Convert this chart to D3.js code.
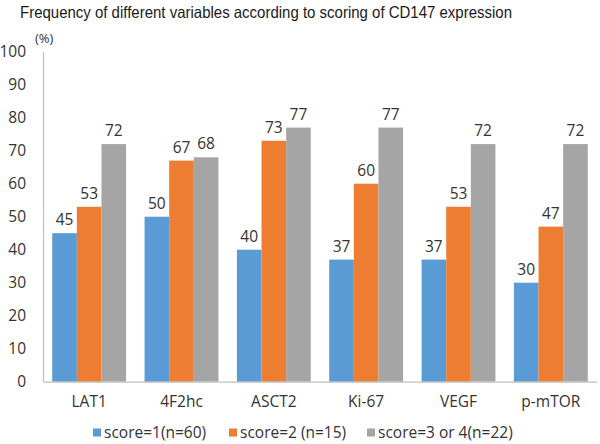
<!DOCTYPE html>
<html><head><meta charset="utf-8">
<script src="https://cdn.jsdelivr.net/npm/d3@7"></script>
<style>body{margin:0;background:#fff}svg{display:block}</style>
</head><body>
<svg id="c" width="600" height="444"></svg>
<script>
const categories = ["LAT1","4F2hc","ASCT2","Ki-67","VEGF","p-mTOR"];
const seriesNames = ["score=1(n=60)","score=2 (n=15)","score=3 or 4(n=22)"];
const score1 = [45,50,40,37,37,30];
const score2 = [53,67,73,60,53,47];
const score34 = [72,68,77,77,72,72];
const yTicks = [0,10,20,30,40,50,60,70,80,90,100];
const colors = ["#5B9BD5","#ED7D31","#A5A5A5"];
const title = "Frequency of different variables according to scoring of CD147 expression";

(function(){
const series = [score1, score2, score34];
const svg = d3.select("#c");
const mLeft = 43, mRight = 597, mTop = 51.7, mBottom = 381.7;
const x = d3.scaleBand().domain(categories).range([mLeft, mRight]).paddingInner(0.2).paddingOuter(0.1);
const x1 = d3.scaleBand().domain(d3.range(series.length)).range([0, x.bandwidth()]);
const y = d3.scaleLinear().domain([0,100]).range([mBottom, mTop]);
const txt = "#333";
const font = "'Open Sans', sans-serif";
const fs = 15.5;

svg.append("text").attr("x", 20).attr("y", 18).attr("font-family","Arial, 'Liberation Sans', sans-serif")
  .attr("font-size", 16.5).attr("fill","#1a1a1a").attr("textLength", 492).attr("lengthAdjust","spacingAndGlyphs").text(title);
svg.append("text").attr("x", 35).attr("y", 43).attr("font-family", font).attr("font-size", 13).attr("fill", txt).text("(%)");

const ya = svg.append("g").attr("transform", `translate(${mLeft},0)`)
  .call(d3.axisLeft(y).tickValues(yTicks).tickSize(0).tickPadding(17));
ya.select(".domain").attr("stroke","#BFBFBF").attr("stroke-width",1.2);
ya.selectAll("text").attr("font-family", font).attr("font-size", fs).attr("fill", txt);

categories.forEach((c, i) => {
  series.forEach((s, j) => {
    const bx = x(c) + x1(j);
    svg.append("rect").attr("x", bx).attr("y", y(s[i])).attr("width", x1.bandwidth()).attr("height", y(0) - y(s[i])).attr("fill", colors[j]);
    svg.append("text").attr("x", bx + x1.bandwidth()/2).attr("y", y(s[i]) - 8).attr("text-anchor","middle")
      .attr("font-family", font).attr("font-size", fs).attr("fill", txt).text(s[i]);
  });
});

const xa = svg.append("g").attr("transform", `translate(0,${mBottom})`)
  .call(d3.axisBottom(x).tickSize(0).tickPadding(14));
xa.select(".domain").attr("stroke","#BFBFBF").attr("stroke-width",1.2);
xa.selectAll("text").attr("font-family", font).attr("font-size", fs).attr("fill", txt);

const legX = [93, 229, 367];
seriesNames.forEach((n, j) => {
  const g = svg.append("g").attr("transform", `translate(${legX[j]},433)`);
  g.append("rect").attr("x", 0).attr("y", -4.5).attr("width", 8).attr("height", 8).attr("fill", colors[j]);
  g.append("text").attr("x", 11).attr("y", 0).attr("dy","0.35em").attr("font-family", font).attr("font-size", fs).attr("fill", txt).text(n);
});
})();
</script>
</body></html>
